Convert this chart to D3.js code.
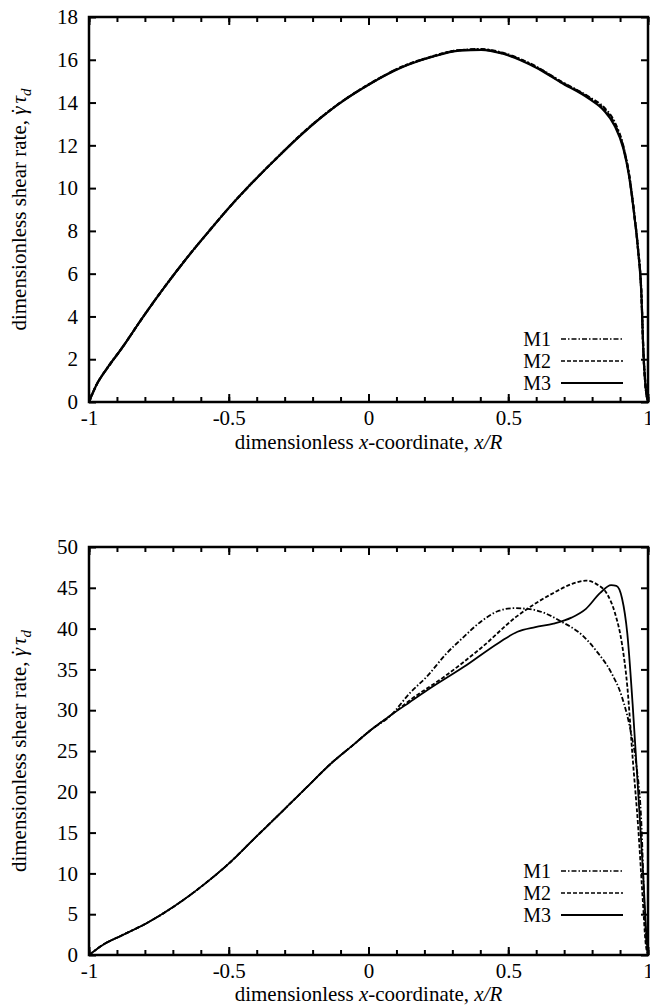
<!DOCTYPE html>
<html>
<head>
<meta charset="utf-8">
<script src="https://cdn.jsdelivr.net/npm/d3@7"></script>
<style>
  body { margin: 0; background: #fff; }
  svg { display: block; }
</style>
</head>
<body>
<svg id="chart" width="650" height="1005"></svg>
<script>
// x positions / values
var topX  = [-1, -0.974, -0.936, -0.884, -0.807, -0.73, -0.652, -0.575, -0.498, -0.42, -0.317, -0.24, -0.111, 0.005, 0.12, 0.223, 0.327, 0.404, 0.481, 0.597, 0.687, 0.79, 0.842, 0.88, 0.912, 0.932, 0.951, 0.964, 0.977, 0.983, 0.99, 1];
var topM3 = [0, 0.78, 1.56, 2.49, 3.97, 5.37, 6.7, 7.92, 9.1, 10.2, 11.55, 12.5, 13.89, 14.87, 15.65, 16.12, 16.43, 16.46, 16.28, 15.65, 14.95, 14.17, 13.63, 12.93, 11.84, 10.59, 8.72, 7.17, 4.83, 2.49, 0.93, 0];
var topM2 = [0, 0.78, 1.56, 2.49, 3.97, 5.37, 6.7, 7.92, 9.1, 10.2, 11.55, 12.52, 13.9, 14.88, 15.67, 16.14, 16.45, 16.48, 16.3, 15.68, 14.98, 14.22, 13.7, 13.02, 11.9, 10.64, 8.76, 7.2, 4.86, 2.5, 0.93, 0];
var topM1 = [0, 0.78, 1.56, 2.49, 3.97, 5.37, 6.7, 7.92, 9.1, 10.2, 11.55, 12.52, 13.9, 14.88, 15.67, 16.13, 16.45, 16.5, 16.32, 15.7, 15.0, 14.25, 13.78, 13.1, 11.95, 10.66, 8.78, 7.22, 4.88, 2.5, 0.93, 0];

var botCommonX = [-1, -0.948, -0.884, -0.794, -0.691, -0.588, -0.498, -0.408, -0.317, -0.227, -0.137, -0.047, 0.005, 0.082];
var botCommonY = [0, 1.3, 2.38, 3.9, 6.06, 8.66, 11.26, 14.29, 17.32, 20.35, 23.38, 25.97, 27.49, 29.44];

var botM3X = [0.146, 0.211, 0.34, 0.468, 0.533, 0.597, 0.662, 0.726, 0.778, 0.829, 0.868, 0.887, 0.907, 0.926, 0.945, 0.965, 0.984, 0.994, 1];
var botM3Y = [30.95, 32.47, 35.28, 38.31, 39.61, 40.17, 40.61, 41.34, 42.42, 44.37, 45.32, 45.24, 43.72, 39.39, 30.74, 19.9, 9.09, 2.6, 0];
var botM2X = [0.146, 0.275, 0.404, 0.533, 0.597, 0.662, 0.726, 0.778, 0.816, 0.855, 0.881, 0.907, 0.926, 0.945, 0.965, 0.981, 0.992, 1];
var botM2Y = [31.17, 34.2, 37.66, 41.56, 43.07, 44.37, 45.45, 45.88, 45.45, 44.16, 42.0, 38.1, 32.9, 24.2, 15.6, 6.9, 1.3, 0];
var botM1X = [0.146, 0.211, 0.275, 0.34, 0.404, 0.468, 0.52, 0.571, 0.623, 0.687, 0.765, 0.816, 0.868, 0.907, 0.939, 0.958, 0.977, 0.986, 0.994, 1];
var botM1Y = [32.03, 34.2, 36.8, 38.96, 40.91, 42.2, 42.5, 42.42, 42.0, 40.91, 39.18, 37.23, 34.63, 31.6, 27.27, 23.38, 15.6, 6.9, 1.7, 0];

var seriesNames = ["M1", "M2", "M3"];
var xTickLabels = [-1, -0.5, 0, 0.5, 1];
var topYTicks = [0, 2, 4, 6, 8, 10, 12, 14, 16, 18];
var botYTicks = [0, 5, 10, 15, 20, 25, 30, 35, 40, 45, 50];

var FONT = "'Liberation Serif', 'Times New Roman', Times, 'DejaVu Serif', serif";
var FS = 21;
var svg = d3.select("#chart").attr("font-family", FONT);
var dashes = {M1: "5,2,1.5,2", M2: "4,2", M3: null};

function zip(xs, ys) {
  return xs.map(function(x, i) { return [x, ys[i]]; });
}

function drawPanel(opt) {
  var x = d3.scaleLinear().domain([-1, 1]).range([opt.left, opt.right]);
  var y = d3.scaleLinear().domain([0, opt.yMax]).range([opt.bottom, opt.top]);
  var g = svg.append("g");

  var minor = d3.range(-10, 11).map(function(d) { return d / 10; });

  // minor x ticks, bottom + top
  g.append("g").attr("transform", "translate(0," + opt.bottom + ")")
    .call(d3.axisBottom(x).tickValues(minor).tickSize(-5).tickFormat(""));
  g.append("g").attr("transform", "translate(0," + opt.top + ")")
    .call(d3.axisTop(x).tickValues(minor).tickSize(-5).tickFormat(""));
  // major x ticks with labels
  g.append("g").attr("class", "xlab").attr("transform", "translate(0," + opt.bottom + ")")
    .call(d3.axisBottom(x).tickValues(xTickLabels).tickSize(-8).tickPadding(14)
      .tickFormat(function(d) { return String(d); }));
  g.append("g").attr("transform", "translate(0," + opt.top + ")")
    .call(d3.axisTop(x).tickValues(xTickLabels).tickSize(-8).tickFormat(""));

  g.append("g").attr("class", "ylab").attr("transform", "translate(" + opt.left + ",0)")
    .call(d3.axisLeft(y).tickValues(opt.yTicks).tickSize(-7).tickPadding(11)
      .tickFormat(function(d) { return String(d); }));
  g.append("g").attr("transform", "translate(" + opt.right + ",0)")
    .call(d3.axisRight(y).tickValues(opt.yTicks).tickSize(-7).tickFormat(""));

  g.selectAll("g").attr("font-family", FONT).attr("font-size", FS);
  g.selectAll(".domain").remove();
  g.selectAll(".tick line").attr("stroke", "#000").attr("stroke-width", 2);
  g.selectAll(".tick text").attr("font-size", FS).attr("fill", "#000")
    .attr("font-family", FONT);
  g.selectAll(".xlab .tick text").attr("dy", "0.45em");

  // frame
  g.append("rect")
    .attr("x", opt.left).attr("y", opt.top)
    .attr("width", opt.right - opt.left).attr("height", opt.bottom - opt.top)
    .attr("fill", "none").attr("stroke", "#000").attr("stroke-width", 2.5);

  var line = d3.line()
    .x(function(d) { return x(d[0]); })
    .y(function(d) { return y(d[1]); })
    .curve(d3.curveMonotoneX);

  opt.series.forEach(function(s) {
    g.append("path")
      .datum(s.data)
      .attr("fill", "none")
      .attr("stroke", "#000")
      .attr("stroke-width", opt.lw)
      .attr("stroke-dasharray", dashes[s.name])
      .attr("d", line);
  });

  // legend
  var leg = g.append("g");
  seriesNames.forEach(function(name, i) {
    var ly = opt.bottom - opt.legOffset + i * 22;
    leg.append("text")
      .attr("x", 551).attr("y", ly)
      .attr("dy", "0.35em")
      .attr("text-anchor", "end")
      .attr("font-family", FONT)
      .attr("font-size", 20)
      .text(name);
    leg.append("line")
      .attr("x1", 561).attr("x2", 623)
      .attr("y1", ly).attr("y2", ly)
      .attr("stroke", "#000")
      .attr("stroke-width", name == "M3" ? opt.lw : 1.6)
      .attr("stroke-dasharray", dashes[name]);
  });

  // axis titles
  var xt = g.append("text")
    .attr("x", (opt.left + opt.right) / 2)
    .attr("y", opt.bottom + opt.titleOff)
    .attr("text-anchor", "middle")
    .attr("font-family", FONT)
    .attr("font-size", FS);
  xt.append("tspan").text("dimensionless ");
  xt.append("tspan").attr("font-style", "italic").text("x");
  xt.append("tspan").text("-coordinate, ");
  xt.append("tspan").attr("font-style", "italic").text("x/R");

  var cy = (opt.top + opt.bottom) / 2;
  var yt = g.append("text")
    .attr("transform", "translate(26," + cy + ") rotate(-90)")
    .attr("text-anchor", "middle")
    .attr("font-family", FONT)
    .attr("font-size", FS);
  yt.append("tspan").text("dimensionless shear rate, ");
  yt.append("tspan").attr("font-style", "italic").text("\u03B3");
  yt.append("tspan").attr("dx", -8).text("\u02D9");
  yt.append("tspan").attr("font-style", "italic").attr("dx", 4).text("\u03C4");
  yt.append("tspan").attr("font-style", "italic").attr("font-size", 15).attr("dy", 5).text("d");
}

drawPanel({
  left: 89, right: 648, top: 17, bottom: 402, yMax: 18, yTicks: topYTicks,
  lw: 2.2, legOffset: 63, titleOff: 47,
  series: [
    {name: "M1", data: zip(topX, topM1)},
    {name: "M2", data: zip(topX, topM2)},
    {name: "M3", data: zip(topX, topM3)}
  ]
});

drawPanel({
  left: 89, right: 648, top: 547, bottom: 955, yMax: 50, yTicks: botYTicks,
  lw: 1.8, legOffset: 84, titleOff: 46,
  series: [
    {name: "M1", data: zip(botCommonX, botCommonY).concat(zip(botM1X, botM1Y))},
    {name: "M2", data: zip(botCommonX, botCommonY).concat(zip(botM2X, botM2Y))},
    {name: "M3", data: zip(botCommonX, botCommonY).concat(zip(botM3X, botM3Y))}
  ]
});
</script>
</body>
</html>
